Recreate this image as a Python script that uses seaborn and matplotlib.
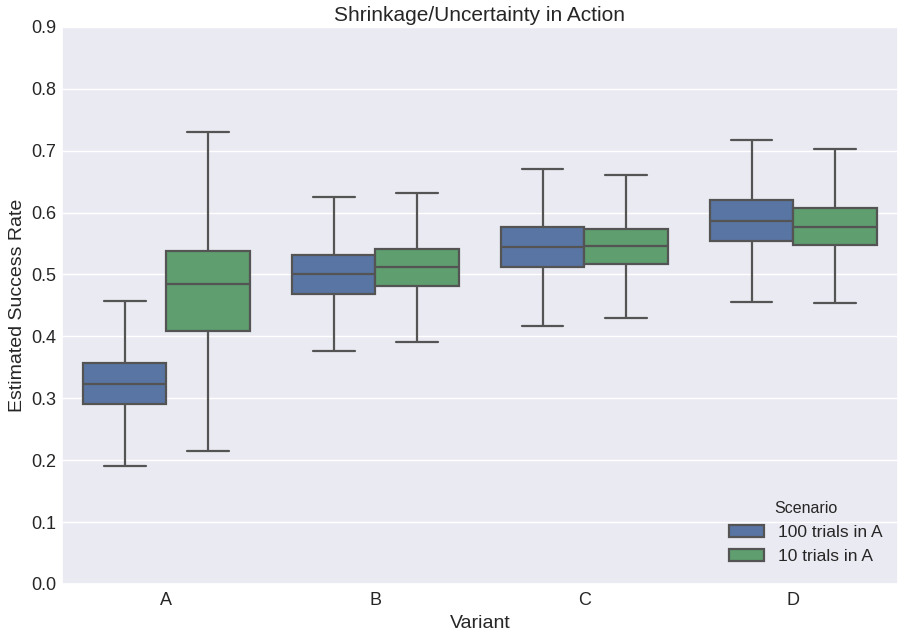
import pandas as pd
import numpy as np
import matplotlib
matplotlib.use("Agg")
import matplotlib.pyplot as plt
import seaborn as sns

# five-number summaries: [low whisker, Q1, median, Q3, high whisker]
variants = ["A", "B", "C", "D"]
scenarios = ["100 trials in A", "10 trials in A"]

stats_100 = {
    "A": [0.191, 0.291, 0.323, 0.357, 0.457],
    "B": [0.376, 0.468, 0.500, 0.531, 0.625],
    "C": [0.417, 0.512, 0.544, 0.576, 0.671],
    "D": [0.455, 0.554, 0.587, 0.620, 0.718],
}
stats_10 = {
    "A": [0.215, 0.409, 0.485, 0.538, 0.730],
    "B": [0.391, 0.481, 0.512, 0.541, 0.631],
    "C": [0.430, 0.517, 0.546, 0.573, 0.660],
    "D": [0.454, 0.547, 0.576, 0.608, 0.702],
}
colors = ["#4C72B0", "#55A868"]

# long-form table; with 5 points the quartiles land exactly on the listed values
rows = []
for scen, stats in zip(scenarios, [stats_100, stats_10]):
    for v in variants:
        for val in stats[v]:
            rows.append({"Variant": v, "Scenario": scen, "value": val})
df = pd.DataFrame(rows)

sns.set_theme(style="darkgrid", rc={
    "xtick.major.size": 0, "ytick.major.size": 0,
    "xtick.major.pad": 6, "ytick.major.pad": 4,
})
plt.rcParams["font.family"] = ["Liberation Sans", "DejaVu Sans"]

fig, ax = plt.subplots(figsize=(9.05, 6.4), dpi=100)
sns.boxplot(data=df, x="Variant", y="value", hue="Scenario", order=variants,
            hue_order=scenarios, palette=colors, whis=(0, 100),
            linecolor="0.33", linewidth=1.6, ax=ax)

ax.set_ylim(0, 0.9)
ax.set_yticks(np.arange(0, 0.91, 0.1))
ax.set_yticklabels([f"{t:.1f}" for t in np.arange(0, 0.91, 0.1)])
ax.tick_params(labelsize=13)
ax.set_title("Shrinkage/Uncertainty in Action", fontsize=15, pad=4.5)
ax.set_xlabel("Variant", fontsize=14)
ax.set_ylabel("Estimated Success Rate", fontsize=14)

sns.move_legend(ax, "lower right", bbox_to_anchor=(1.0, 0.008), title="Scenario",
                frameon=False, fontsize=12.5, title_fontsize=11.5)

fig.subplots_adjust(left=0.0685, right=0.992, top=0.958, bottom=0.0875)
plt.savefig("out.png", dpi=100)
plt.close()
